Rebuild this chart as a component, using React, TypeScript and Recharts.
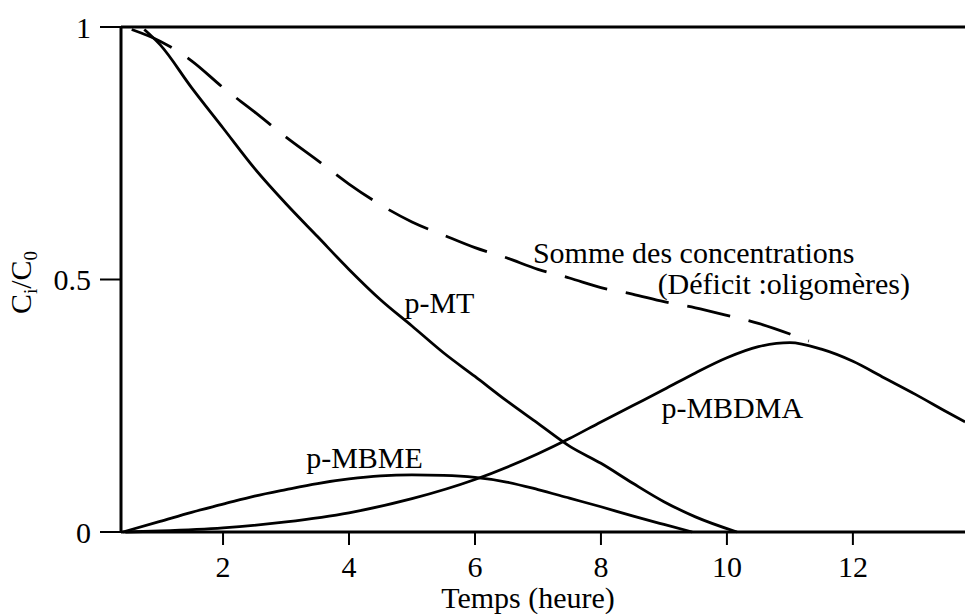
import { LineChart, Line, XAxis, YAxis, ReferenceDot } from 'recharts';

// temps (heure) et C_i/C_0
const mtTime = [0.75, 1, 1.5, 2, 2.5, 3, 3.5, 4, 4.5, 5, 5.5, 6, 6.5, 7, 7.5, 8, 8.5, 9, 9.5, 10.16];
const mtValue = [0.995, 0.965, 0.88, 0.8, 0.72, 0.65, 0.585, 0.52, 0.46, 0.408, 0.355, 0.308, 0.26, 0.215, 0.17, 0.136, 0.097, 0.06, 0.03, 0];

const mbmeTime = [0.41, 1, 1.5, 2, 2.5, 3, 3.5, 4, 4.5, 5, 5.5, 6, 6.5, 7, 7.5, 8, 8.5, 9, 9.45];
const mbmeValue = [0, 0.021, 0.039, 0.055, 0.071, 0.084, 0.096, 0.105, 0.111, 0.113, 0.112, 0.108, 0.099, 0.084, 0.067, 0.05, 0.032, 0.015, 0];

const mbdmaTime = [0.45, 1, 2, 3, 4, 5, 6, 7, 7.5, 8, 8.5, 9, 9.5, 10, 10.5, 11, 11.5, 12, 12.5, 13, 13.5, 13.78];
const mbdmaValue = [0, 0.002, 0.008, 0.02, 0.038, 0.066, 0.104, 0.155, 0.185, 0.218, 0.25, 0.282, 0.315, 0.345, 0.367, 0.375, 0.362, 0.338, 0.305, 0.272, 0.237, 0.218];

const sumTime = [0.55, 1, 1.5, 2, 2.5, 3, 3.5, 4, 4.5, 5, 5.5, 6, 6.5, 7, 7.5, 8, 8.5, 9, 9.5, 10, 10.5, 11, 11.3];
const sumValue = [0.995, 0.972, 0.933, 0.88, 0.832, 0.782, 0.736, 0.689, 0.648, 0.614, 0.588, 0.563, 0.543, 0.52, 0.503, 0.484, 0.471, 0.456, 0.444, 0.429, 0.413, 0.392, 0.378];

const xTicks = [2, 4, 6, 8, 10, 12];
const yTicks = [0, 0.5, 1];

const toRows = (t: number[], v: number[]) => t.map((x, i) => ({ t: x, v: v[i] }));

const notes = [
  { text: 'Somme des concentrations', t: 6.92, c: 0.533 },
  { text: '(Déficit :oligomères)', t: 8.9, c: 0.472 },
  { text: 'p-MT', t: 4.88, c: 0.434 },
  { text: 'p-MBME', t: 3.32, c: 0.127 },
  { text: 'p-MBDMA', t: 8.96, c: 0.226 },
];

const FONT = '"Liberation Serif", "Times New Roman", serif';
const tickStyle = { fill: '#000', fontSize: 30, fontFamily: FONT };
const xDomain = [0.38, 13.78];

const YLabel = (props: any) => {
  const vb = props.viewBox;
  const x = vb.x + 31;
  const y = vb.y + vb.height / 2 + 3;
  return (
    <text x={x} y={y} transform={`rotate(-90, ${x}, ${y})`} textAnchor="middle" fill="#000" fontSize={30} fontFamily={FONT}>
      C<tspan dy={6} fontSize={19}>i</tspan>
      <tspan dy={-6}>/C</tspan>
      <tspan dy={6} fontSize={19}>0</tspan>
    </text>
  );
};

const XLabel = (props: any) => {
  const vb = props.viewBox;
  return (
    <text x={vb.x + 407} y={vb.y + 76} textAnchor="middle" fill="#000" fontSize={30} fontFamily={FONT}>
      Temps (heure)
    </text>
  );
};

export default function App() {
  return (
    <div style={{ position: 'absolute', left: 0, top: 0, width: 965, height: 614, background: '#fff' }}>
      <LineChart width={965} height={614} margin={{ top: 26, right: 0, bottom: 0, left: 0 }}>
        <XAxis
          type="number"
          dataKey="t"
          domain={xDomain}
          ticks={xTicks}
          allowDataOverflow
          height={82}
          tick={tickStyle}
          tickSize={13}
          tickMargin={11}
          tickLine={{ stroke: '#000', strokeWidth: 2 }}
          axisLine={{ stroke: '#000', strokeWidth: 3 }}
          label={{ content: XLabel }}
        />
        {/* cadre du haut */}
        <XAxis
          xAxisId="top"
          orientation="top"
          type="number"
          domain={xDomain}
          ticks={xTicks}
          allowDataOverflow
          height={1}
          tick={false}
          tickLine={false}
          axisLine={{ stroke: '#000', strokeWidth: 3 }}
        />
        <YAxis
          type="number"
          domain={[0, 1]}
          ticks={yTicks}
          width={121}
          tick={tickStyle}
          tickSize={21}
          tickMargin={9}
          tickLine={{ stroke: '#000', strokeWidth: 2 }}
          axisLine={{ stroke: '#000', strokeWidth: 3 }}
          label={{ content: YLabel }}
        />
        <Line data={toRows(sumTime, sumValue)} dataKey="v" type="monotone" stroke="#000" strokeWidth={2.8} strokeDasharray="44 19" dot={false} isAnimationActive={false} />
        <Line data={toRows(mtTime, mtValue)} dataKey="v" type="monotone" stroke="#000" strokeWidth={2.8} dot={false} isAnimationActive={false} />
        <Line data={toRows(mbmeTime, mbmeValue)} dataKey="v" type="monotone" stroke="#000" strokeWidth={2.8} dot={false} isAnimationActive={false} />
        <Line data={toRows(mbdmaTime, mbdmaValue)} dataKey="v" type="monotone" stroke="#000" strokeWidth={2.8} dot={false} isAnimationActive={false} />
        {notes.map((n) => (
          <ReferenceDot
            key={n.text}
            x={n.t}
            y={n.c}
            r={0}
            fill="none"
            stroke="none"
            label={{
              content: (p: any) => (
                <text x={p.viewBox.x} y={p.viewBox.y} fill="#000" fontSize={30} fontFamily={FONT}>
                  {n.text}
                </text>
              ),
            }}
          />
        ))}
      </LineChart>
    </div>
  );
}
